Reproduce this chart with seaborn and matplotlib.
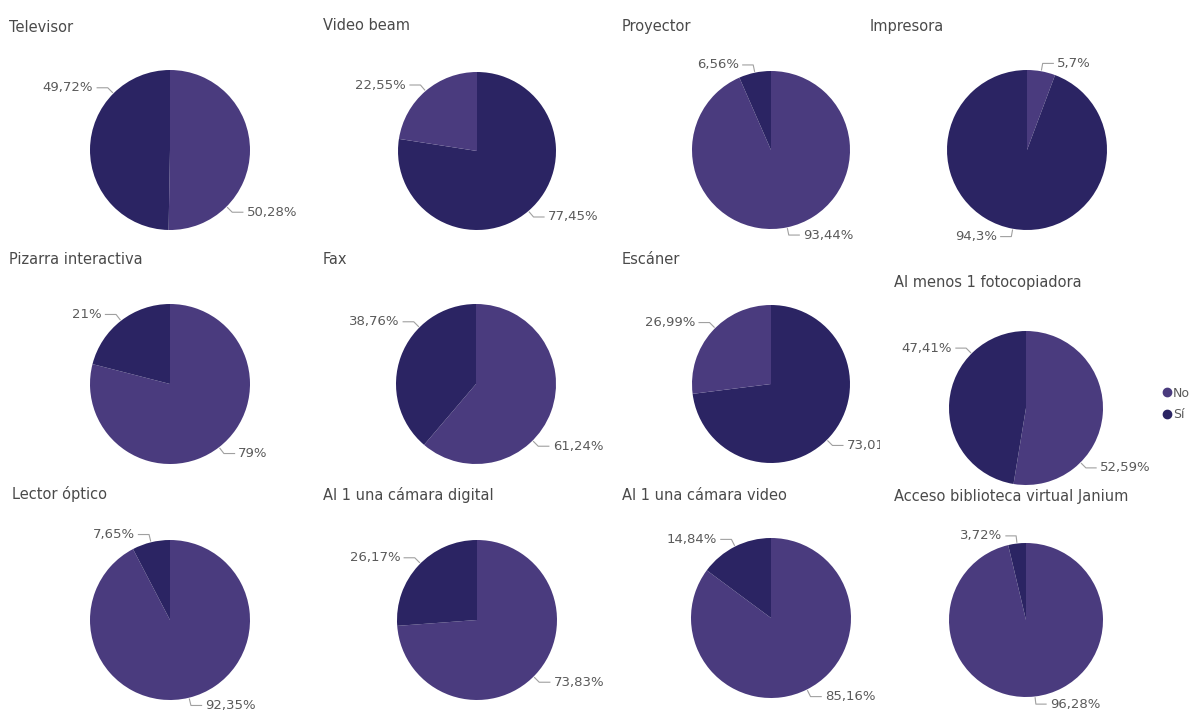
import matplotlib
matplotlib.use("Agg")
import numpy as np
import matplotlib.pyplot as plt
import seaborn as sns
from matplotlib.lines import Line2D
from matplotlib.transforms import Bbox, TransformedBbox

# Equipment availability: share of "No" and "Sí" answers per item (%)
titles = [
    "Televisor", "Video beam", "Proyector", "Impresora",
    "Pizarra interactiva", "Fax", "Escáner", "Al menos 1 fotocopiadora",
    "Lector óptico", "Al 1 una cámara digital", "Al 1 una cámara video",
    "Acceso biblioteca virtual Janium",
]
no_pct = [50.28, 22.55, 93.44, 5.7, 79, 61.24, 26.99, 52.59, 92.35, 73.83, 85.16, 96.28]
si_pct = [49.72, 77.45, 6.56, 94.3, 21, 38.76, 73.01, 47.41, 7.65, 26.17, 14.84, 3.72]
series = ["No", "Sí"]
# items whose first slice (clockwise from 12 o'clock) is "Sí"
si_first = {"Video beam", "Escáner"}

sns.set_theme(style="white")
plt.rcParams["font.family"] = ["DejaVu Sans"]
palette = dict(zip(series, sns.color_palette(["#4a3b7e", "#2b2463"])))

W, H = 1196, 713
fig = plt.figure(figsize=(W / 100, H / 100), dpi=100)

# pixel layout of each panel: pie centre x, centre y, radius, title x, title y
layout = [
    (170, 150, 80, 9, 27), (477, 151, 79, 323, 26), (771, 150, 79, 622, 26), (1027, 150, 80, 870, 26),
    (170, 384, 80, 9, 259), (476, 384, 80, 323, 259), (771, 384, 79, 622, 259), (1026, 408, 77, 894, 282),
    (170, 620, 80, 12, 494), (477, 620, 80, 323, 495), (771, 618, 80, 622, 495), (1026, 620, 77, 894, 496),
]
# right edge of each column's panel; labels are cut off there
panel_right = [300, 610, 880, W]

text_col = "#5a5a5a"
line_col = "#a0a0a0"


def fmt(v):
    s = f"{v:.2f}".rstrip("0").rstrip(".")
    return s.replace(".", ",") + "%"


def label_angle(mid):
    # keep labels off the horizontal sides of the pie
    if 45 < mid < 135:
        return 135 if mid >= 90 else 45
    if 225 < mid < 315:
        return 315 if mid >= 270 else 225
    return mid


for i, title in enumerate(titles):
    cx, cy, r, tx, ty = layout[i]
    ax = fig.add_axes([(cx - r) / W, 1 - (cy + r) / H, 2 * r / W, 2 * r / H])
    order = ["Sí", "No"] if title in si_first else ["No", "Sí"]
    vals = {"No": no_pct[i], "Sí": si_pct[i]}
    values = [vals[s] for s in order]
    ax.pie(values, colors=[palette[s] for s in order], startangle=90,
           counterclock=False, radius=1, wedgeprops=dict(linewidth=0))
    ax.set_xlim(-1, 1)
    ax.set_ylim(-1, 1)
    ax.set_aspect("equal")
    ax.axis("off")

    clip = TransformedBbox(
        Bbox([[0, 0], [panel_right[i % 4] / W, 1]]), fig.transFigure)

    cum = 0.0
    for v in values:
        mid = (cum + v / 2) / 100 * 360
        cum += v
        ang = np.deg2rad(label_angle(mid))
        px, py = np.sin(ang), np.cos(ang)
        side = 1 if px >= 0 else -1
        sx, sy = 1.01 * px, 1.01 * py
        ex, ey = 1.1 * px, 1.1 * py
        fx = ex + side * 0.14
        ax.plot([sx, ex, fx], [sy, ey, ey], color=line_col, lw=0.8,
                clip_on=False, solid_capstyle="butt")
        t = ax.text(fx + side * 0.04, ey, fmt(v), ha="left" if side > 0 else "right",
                    va="center", fontsize=9.5, color=text_col)
        t.set_clip_box(clip)
        t.set_clip_on(True)

    fig.text(tx / W, 1 - ty / H, title, ha="left", va="center",
             fontsize=10.5, color="#4a4a4a")

handles = [Line2D([], [], marker="o", ls="", color=palette[s], markersize=6, label=s)
           for s in series]
fig.legend(handles=handles, loc="center left", bbox_to_anchor=(1156 / W, 1 - 404 / H),
           frameon=False, handletextpad=0.05, labelspacing=0.7, fontsize=9,
           labelcolor=text_col, handlelength=0.9, borderaxespad=0)

fig.savefig("out.png", dpi=100)
